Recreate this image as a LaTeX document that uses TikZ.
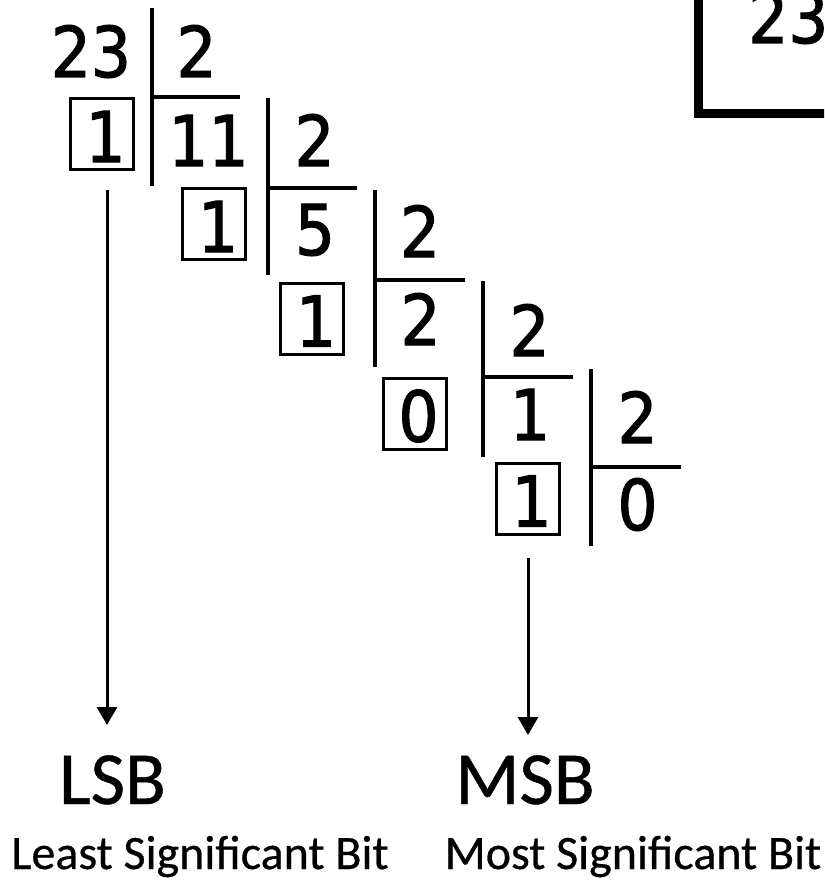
\documentclass[tikz,border=0pt]{standalone}
\usepackage{fontspec}
\usetikzlibrary{arrows.meta}
\newfontfamily\digitfont[FakeStretch=0.9,FakeBold=1.6]{DejaVu Sans}
\newfontfamily\labelfont[FakeBold=0.6]{Carlito}

\begin{document}
\begin{tikzpicture}[x=1pt,y=-1pt,
  num/.style={font=\digitfont\fontsize{70}{70}\selectfont, inner sep=0pt, anchor=base},
  rbox/.style={draw, line width=3pt, inner sep=0pt, text height=62pt, text depth=6pt,
               minimum width=63pt, minimum height=71pt,
               font=\digitfont\fontsize{70}{70}\selectfont},
  rule/.style={line width=4pt},
  arr/.style={line width=3pt, -{Triangle[width=20pt,length=18pt]}},
  big/.style={font=\labelfont\fontsize{75}{75}\selectfont, inner sep=0pt, anchor=base},
  small/.style={font=\labelfont\fontsize{48}{48}\selectfont, inner sep=0pt, anchor=base}]
\useasboundingbox (0,0) rectangle (824,880);
\clip (0,0) rectangle (824,880);

% framed result box, partly outside the page
\draw[line width=9pt, line join=miter] (698.5,-20) -- (698.5,114) -- (840,114);
\node[num, anchor=base west] (res) at (748,43) {23};

% dividends / quotients
\node[num] (q0) at (91,77) {23};
\node[num] (q1) at (208.5,166) {11};
\node[num] (q2) at (315,255) {5};
\node[num] (q3) at (420.5,345) {2};
\node[num] (q4) at (530,440) {1};
\node[num] (q5) at (637.5,530) {0};

% divisors
\node[num] (d0) at (196.5,77) {2};
\node[num] (d1) at (314.5,166) {2};
\node[num] (d2) at (420,257) {2};
\node[num] (d3) at (529.5,356) {2};
\node[num] (d4) at (637.5,443) {2};

% division bars
\draw[rule] (152,8) -- (152,186);   \draw[rule] (150,97) -- (240,97);
\draw[rule] (268,98) -- (268,275);  \draw[rule] (266,188) -- (357,188);
\draw[rule] (375,190) -- (375,367); \draw[rule] (373,280) -- (465,280);
\draw[rule] (483,281) -- (483,457); \draw[rule] (481,377) -- (573,377);
\draw[rule] (591,369) -- (591,546); \draw[rule] (589,467) -- (681,467);

% boxed remainders
\node[rbox] (r0) at (101.5,134)   {\hspace*{8pt}1};
\node[rbox] (r1) at (214,224)     {\hspace*{8pt}1};
\node[rbox] (r2) at (312,318.5)   {\hspace*{8pt}1};
\node[rbox] (r3) at (414.5,413.5) {\hspace*{8pt}0};
\node[rbox] (r4) at (527.5,498.5) {\hspace*{8pt}1};

% labels
\node[big] (lsb) at (112.5,804) {LSB};
\node[big] (msb) at (525,804) {MSB};
\node[small] (lsbtxt) at (200,869) {Least Significant Bit};
\node[small] (msbtxt) at (633,869) {Most Significant Bit};

% arrows from the first and last remainders
\coordinate (la) at (107,190);
\coordinate (lb) at (107,725);
\coordinate (ma) at (528,558);
\coordinate (mb) at (528,735);
\draw[arr] (la) -- (lb);
\draw[arr] (ma) -- (mb);
\end{tikzpicture}
\end{document}
